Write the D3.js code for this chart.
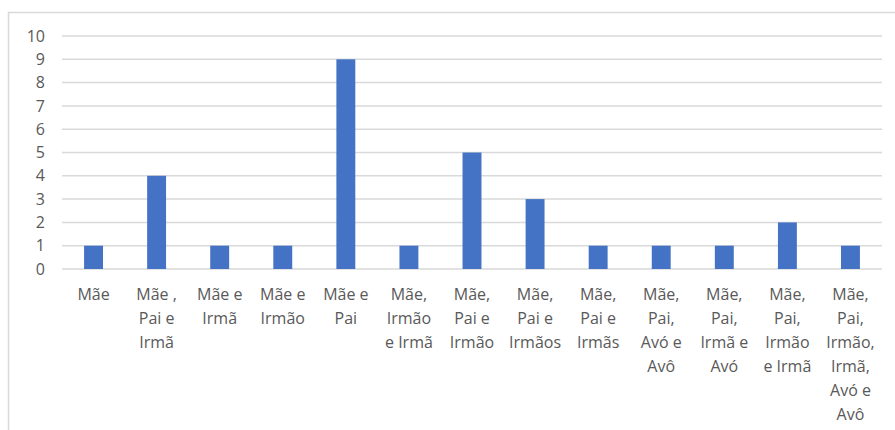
<!DOCTYPE html>
<html>
<head>
<meta charset="utf-8">
<script src="https://cdn.jsdelivr.net/npm/d3@7"></script>
<style>
  html, body { margin: 0; padding: 0; background: #fff; }
  svg { display: block; }
  text { font-family: "Open Sans", "Noto Sans", sans-serif; fill: #595959; }
</style>
</head>
<body>
<svg id="chart" width="895" height="430"></svg>
<script>
// Household members (one label line per array entry)
const categories = [
  ["Mãe"],
  ["Mãe ,", "Pai e", "Irmã"],
  ["Mãe e", "Irmã"],
  ["Mãe e", "Irmão"],
  ["Mãe e", "Pai"],
  ["Mãe,", "Irmão", "e Irmã"],
  ["Mãe,", "Pai e", "Irmão"],
  ["Mãe,", "Pai e", "Irmãos"],
  ["Mãe,", "Pai e", "Irmãs"],
  ["Mãe,", "Pai,", "Avó e", "Avô"],
  ["Mãe,", "Pai,", "Irmã e", "Avó"],
  ["Mãe,", "Pai,", "Irmão", "e Irmã"],
  ["Mãe,", "Pai,", "Irmão,", "Irmã,", "Avó e", "Avô"]
];
const values = [1, 4, 1, 1, 9, 1, 5, 3, 1, 1, 1, 2, 1];
const yTicks = [0, 1, 2, 3, 4, 5, 6, 7, 8, 9, 10];

const svg = d3.select("#chart");
const plot = { left: 62, right: 882, top: 36, bottom: 269 };

// Chart area frame (top and left edges)
svg.append("path")
  .attr("d", "M8.5,430 L8.5,12.5 L895,12.5")
  .attr("fill", "none")
  .attr("stroke", "#d9d9d9")
  .attr("stroke-width", 1.5);

const keys = categories.map((c, i) => i);
const x = d3.scaleBand().domain(keys).range([plot.left, plot.right]).paddingInner(0.7).paddingOuter(0.35);
const y = d3.scaleLinear().domain([0, 10]).range([plot.bottom, plot.top]);

// Horizontal gridlines
svg.append("g")
  .selectAll("line")
  .data(yTicks)
  .join("line")
  .attr("x1", plot.left)
  .attr("x2", plot.right)
  .attr("y1", d => y(d))
  .attr("y2", d => y(d))
  .attr("stroke", "#d9d9d9")
  .attr("stroke-width", 1.5);

// Y axis labels
const yAxis = svg.append("g")
  .attr("transform", `translate(${plot.left - 17},0)`)
  .call(d3.axisLeft(y).tickValues(yTicks).tickSize(0).tickPadding(0));
yAxis.select(".domain").remove();
yAxis.selectAll("text")
  .style("font-family", '"Open Sans", "Noto Sans", sans-serif')
  .style("font-size", "16px")
  .attr("fill", "#595959");

// Bars
svg.append("g")
  .selectAll("rect")
  .data(values)
  .join("rect")
  .attr("x", (d, i) => x(i))
  .attr("width", x.bandwidth())
  .attr("y", d => y(d))
  .attr("height", d => y(0) - y(d))
  .attr("fill", "#4472c4");

// Category labels, wrapped over several lines
const xAxis = svg.append("g")
  .attr("transform", `translate(0,${plot.bottom})`)
  .call(d3.axisBottom(x).tickSize(0).tickFormat(() => ""));
xAxis.select(".domain").remove();
xAxis.selectAll(".tick text").remove();
xAxis.selectAll(".tick")
  .append("text")
  .attr("text-anchor", "middle")
  .style("font-size", "16px")
  .attr("fill", "#595959")
  .each(function (d) {
    const t = d3.select(this);
    categories[d].forEach((line, k) => {
      t.append("tspan").attr("x", 0).attr("y", 31 + k * 24).text(line);
    });
  });
</script>
</body>
</html>
